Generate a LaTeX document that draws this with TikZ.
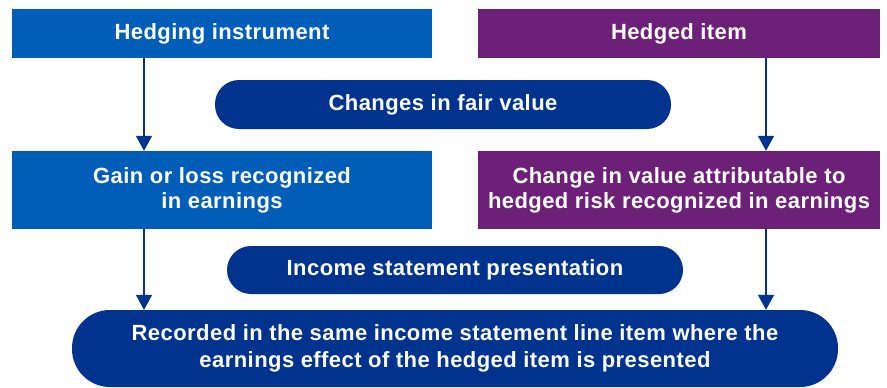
\documentclass[tikz,border=0pt]{standalone}
\usepackage{fontspec}
\setmainfont{Liberation Sans}[LetterSpace=2]
\usepackage{tikz}
\usetikzlibrary{arrows.meta, calc}

\definecolor{hblue}{RGB}{0,94,184}
\definecolor{hpurple}{RGB}{109,32,119}
\definecolor{hnavy}{RGB}{0,51,141}

\begin{document}
\begin{tikzpicture}[x=1pt, y=-1pt,
    box/.style={fill=#1, draw=none, text=white, inner sep=0pt, align=center,
                font=\fontsize{22}{25}\selectfont\bfseries},
    pill/.style={box=hnavy, rounded corners=#1},
    arr/.style={hnavy, line width=1.5pt, -{Triangle[width=16pt, length=15pt]}}]

  \useasboundingbox (0, 0) rectangle (887, 388);

  % top row
  \node[box=hblue, minimum width=420, minimum height=49] (hinst) at (222, 33.5) {Hedging instrument};
  \node[box=hpurple, minimum width=402, minimum height=49] (hitem) at (679, 33.5) {Hedged item};

  \node[pill=24pt, minimum width=456, minimum height=49] (fairval) at (443, 104.5) {Changes in fair value};

  % middle row
  \node[box=hblue, minimum width=420, minimum height=78] (gainloss) at (222, 190)
    {Gain or loss recognized\\in earnings};
  \node[box=hpurple, minimum width=402, minimum height=78] (changeval) at (679, 190)
    {Change in value attributable to\\hedged risk recognized in earnings};

  \node[pill=24pt, minimum width=456, minimum height=48] (incpres) at (455, 270) {Income statement presentation};

  % bottom
  \node[pill=38pt, minimum width=766, minimum height=77, font=\fontsize{22}{27}\selectfont\bfseries] (recorded) at (455, 348.5)
    {Recorded in the same income statement line item where the\\earnings effect of the hedged item is presented};

  \coordinate (lx) at (144, 0);
  \coordinate (rx) at (766, 0);
  \draw[arr] (hinst.south -| lx) -- (gainloss.north -| lx);
  \draw[arr] (hitem.south -| rx) -- (changeval.north -| rx);
  \draw[arr] (gainloss.south -| lx) -- (recorded.north -| lx);
  \draw[arr] (changeval.south -| rx) -- (recorded.north -| rx);

\end{tikzpicture}
\end{document}
